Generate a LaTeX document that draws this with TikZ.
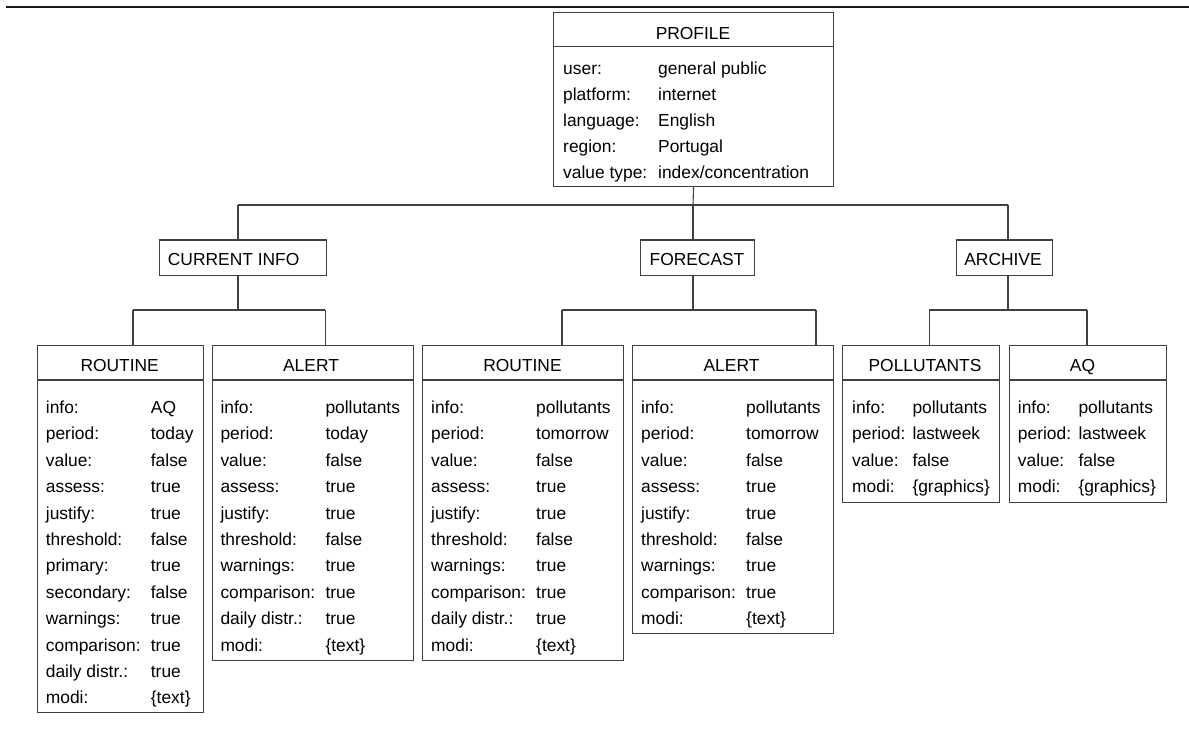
\documentclass[tikz,border=0pt]{standalone}
\usepackage{fontspec}
\setmainfont{Liberation Sans}
\tikzset{
  bx/.style={draw=black!75, line width=1.1pt, inner sep=0pt, anchor=north west},
  conn/.style={draw=black!75, line width=1.1pt},
  txt/.style={inner sep=0pt, font=\fontsize{17.4}{20}\selectfont},
  fld/.style={txt, anchor=base west},
  ttl/.style={txt, anchor=base},
}
\newcommand\boxrows[4]{%
  \foreach \l/\v [count=\i from 0] in {#4}{%
    \node[fld] (#1-l\i) at ({#2},{413.5+26.4*\i}) {\l};
    \node[fld] (#1-v\i) at ({#3},{413.5+26.4*\i}) {\v};
  }}
\begin{document}
\begin{tikzpicture}[x=1pt,y=-1pt]
\useasboundingbox (0,0) rectangle (1189,743);
% top rule
\coordinate (tl) at (6,7);
\coordinate (tr) at (1189,7);
\draw[line width=1.8pt, black!90] (tl) -- (tr);

% PROFILE
\node[bx, minimum width=280pt, minimum height=174pt] (profile) at (553,12) {};
\draw[conn] (profile.west |- 0,46.5) -- (profile.east |- 0,46.5);
\node[ttl] (profile-t) at (693,39.3) {PROFILE};
\node[fld] (p-l0) at (563,75) {user:};        \node[fld] (p-v0) at (658,75) {general public};
\node[fld] (p-l1) at (563,101) {platform:};   \node[fld] (p-v1) at (658,101) {internet};
\node[fld] (p-l2) at (563,127) {language:};   \node[fld] (p-v2) at (658,127) {English};
\node[fld] (p-l3) at (563,153) {region:};     \node[fld] (p-v3) at (658,153) {Portugal};
\node[fld] (p-l4) at (563,179) {value type:}; \node[fld] (p-v4) at (658,179) {index/concentration};

% level 2 boxes
\node[bx, minimum width=166.7pt, minimum height=35.5pt] (ci) at (159,239.5) {};
\node[fld] (ci-t) at (167.7,265.7) {CURRENT INFO};
\node[bx, minimum width=114pt, minimum height=35.5pt] (fc) at (640,239.5) {};
\node[ttl] (fc-t) at (697,265.7) {FORECAST};
\node[bx, minimum width=96pt, minimum height=35.5pt] (ar) at (956,239.5) {};
\node[ttl] (ar-t) at (1003,265.7) {ARCHIVE};

% level 3 boxes
\node[bx, minimum width=166pt, minimum height=367.3pt] (cr) at (36.7,345) {};
\node[bx, minimum width=201pt, minimum height=315pt] (ca) at (211.7,345) {};
\node[bx, minimum width=201pt, minimum height=315pt] (fr) at (422,345) {};
\node[bx, minimum width=201pt, minimum height=288pt] (fa) at (632,345) {};
\node[bx, minimum width=157.3pt, minimum height=157pt] (ap) at (842,345) {};
\node[bx, minimum width=157.3pt, minimum height=157pt] (aq) at (1008.7,345) {};
\foreach \b in {cr,ca,fr,fa,ap,aq}{
  \draw[conn] (\b.west |- 0,380) -- (\b.east |- 0,380);
}
\node[ttl] (cr-t) at (119.7,371) {ROUTINE};
\node[ttl] (ca-t) at (311,371) {ALERT};
\node[ttl] (fr-t) at (522.5,371) {ROUTINE};
\node[ttl] (fa-t) at (731.5,371) {ALERT};
\node[ttl] (ap-t) at (925,371) {POLLUTANTS};
\node[ttl] (aq-t) at (1082.5,371) {AQ};

\boxrows{cr}{45.7}{150.7}{info:/AQ,period:/today,value:/false,assess:/true,justify:/true,threshold:/false,primary:/true,secondary:/false,warnings:/true,comparison:/true,daily distr.:/true,modi:/\{text\}}
\boxrows{ca}{220.3}{325.3}{info:/pollutants,period:/today,value:/false,assess:/true,justify:/true,threshold:/false,warnings:/true,comparison:/true,daily distr.:/true,modi:/\{text\}}
\boxrows{fr}{431}{536}{info:/pollutants,period:/tomorrow,value:/false,assess:/true,justify:/true,threshold:/false,warnings:/true,comparison:/true,daily distr.:/true,modi:/\{text\}}
\boxrows{fa}{641}{746}{info:/pollutants,period:/tomorrow,value:/false,assess:/true,justify:/true,threshold:/false,warnings:/true,comparison:/true,modi:/\{text\}}
\boxrows{ap}{852}{912.3}{info:/pollutants,period:/lastweek,value:/false,modi:/\{graphics\}}
\boxrows{aq}{1017.7}{1078.3}{info:/pollutants,period:/lastweek,value:/false,modi:/\{graphics\}}

% connectors level 1
\coordinate (h1) at (693,205);
\coordinate (h1l) at (238,205);
\coordinate (h1r) at (1008,205);
\draw[conn] (profile.south) -- (h1);
\draw[conn] (h1l) -- (h1r);
\draw[conn] (h1l) -- (h1l |- ci.north);
\draw[conn] (h1) -- (h1 |- fc.north);
\draw[conn] (h1r) -- (h1r |- ar.north);

% connectors level 2
\coordinate (c2) at (238,310);
\coordinate (c2l) at (133,310);
\coordinate (c2r) at (325.3,310);
\draw[conn] (c2 |- ci.south) -- (c2);
\draw[conn] (c2l) -- (c2r);
\draw[conn] (c2l) -- (c2l |- cr.north);
\draw[conn] (c2r) -- (c2r |- ca.north);

\coordinate (f2) at (693,310);
\coordinate (f2l) at (562,310);
\coordinate (f2r) at (816,310);
\draw[conn] (f2 |- fc.south) -- (f2);
\draw[conn] (f2l) -- (f2r);
\draw[conn] (f2l) -- (f2l |- fr.north);
\draw[conn] (f2r) -- (f2r |- fa.north);

\coordinate (a2) at (1008,310);
\coordinate (a2l) at (929.3,310);
\coordinate (a2r) at (1087,310);
\draw[conn] (a2 |- ar.south) -- (a2);
\draw[conn] (a2l) -- (a2r);
\draw[conn] (a2l) -- (a2l |- ap.north);
\draw[conn] (a2r) -- (a2r |- aq.north);
\end{tikzpicture}
\end{document}
